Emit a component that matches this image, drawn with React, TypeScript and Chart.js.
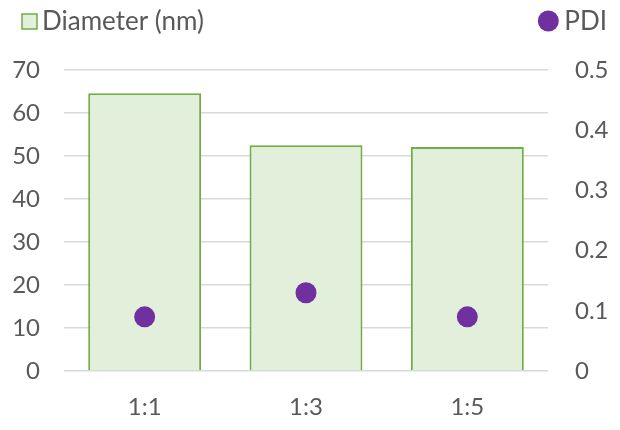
import React, { useEffect, useRef } from "react";
import { Chart, registerables } from "chart.js";

Chart.register(...registerables);

const categories = ["1:1", "1:3", "1:5"];
const diameterValues = [64.6, 52.5, 52.1];
const pdiValues = [0.09, 0.13, 0.09];
const seriesNames = ["Diameter (nm)", "PDI"];
const leftAxis = { min: 0, max: 70, step: 10 };
const rightAxis = { min: 0, max: 0.5, step: 0.1 };

const FONT = "Lato";
const TEXT = "#595959";
const BAR_FILL = "#e2efda";
const BAR_BORDER = "#70ad47";
const POINT = "#7030a0";
const GRID = "#d9d9d9";
const FS = 24;
const LEGEND_FS = 26;

const legendPlugin = {
  id: "customLegend",
  afterDraw(chart: any) {
    const ctx = chart.ctx as CanvasRenderingContext2D;
    ctx.save();
    ctx.fillStyle = BAR_FILL;
    ctx.strokeStyle = BAR_BORDER;
    ctx.lineWidth = 1.5;
    ctx.fillRect(22, 14, 15, 15);
    ctx.strokeRect(22, 14, 15, 15);
    ctx.font = `${LEGEND_FS}px ${FONT}`;
    ctx.fillStyle = TEXT;
    ctx.textBaseline = "middle";
    ctx.textAlign = "left";
    ctx.fillText(seriesNames[0], 42, 22);
    const w = ctx.measureText(seriesNames[1]).width;
    const tx = 607 - w;
    ctx.fillText(seriesNames[1], tx, 22);
    ctx.beginPath();
    ctx.arc(tx - 16, 21, 10.5, 0, Math.PI * 2);
    ctx.fillStyle = POINT;
    ctx.fill();
    ctx.restore();
  },
};

export default function App() {
  const ref = useRef<HTMLCanvasElement | null>(null);
  useEffect(() => {
    if (!ref.current) return;
    const chart = new Chart(ref.current, {
      type: "bar",
      data: {
        labels: categories,
        datasets: [
          {
            type: "line",
            label: seriesNames[1],
            data: pdiValues,
            yAxisID: "y1",
            showLine: false,
            pointRadius: 10.5,
            pointHoverRadius: 10.5,
            pointBackgroundColor: POINT,
            pointBorderColor: POINT,
            pointBorderWidth: 0,
            order: 0,
          } as any,
          {
            type: "bar",
            label: seriesNames[0],
            data: diameterValues,
            yAxisID: "y",
            backgroundColor: BAR_FILL,
            borderColor: BAR_BORDER,
            borderWidth: 2,
            borderSkipped: "bottom",
            categoryPercentage: 1,
            barPercentage: 0.7,
            order: 1,
          },
        ],
      },
      options: {
        responsive: false,
        animation: false,
        devicePixelRatio: 1,
        layout: { padding: { top: 70, left: 0, right: 0, bottom: 0 } },
        plugins: {
          legend: { display: false },
          tooltip: { enabled: false },
        },
        scales: {
          x: {
            grid: { display: false, drawTicks: false },
            border: { display: false },
            ticks: {
              color: TEXT,
              font: { family: FONT, size: FS },
              padding: 22,
            },
            afterFit: (s: any) => {
              s.height = 59;
            },
          },
          y: {
            position: "left",
            min: leftAxis.min,
            max: leftAxis.max,
            grid: { color: GRID, lineWidth: 1.5, drawTicks: false },
            border: { display: false },
            ticks: {
              stepSize: leftAxis.step,
              color: TEXT,
              font: { family: FONT, size: FS },
              padding: 24,
            },
            afterFit: (s: any) => {
              s.width = 64;
            },
          },
          y1: {
            position: "right",
            min: rightAxis.min,
            max: rightAxis.max,
            grid: { display: false, drawTicks: false },
            border: { display: false },
            ticks: {
              stepSize: rightAxis.step,
              color: TEXT,
              font: { family: FONT, size: FS },
              padding: 27,
              callback: (v: any) => (Number(v) === 0 ? "0" : Number(v).toFixed(1)),
            },
            afterFit: (s: any) => {
              s.width = 72;
            },
          },
        },
      },
      plugins: [legendPlugin],
    });
    return () => chart.destroy();
  }, []);
  return (
    <div style={{ position: "absolute", left: 0, top: 0, width: 620, height: 430, background: "#fff" }}>
      <canvas ref={ref} width={620} height={430} />
    </div>
  );
}
